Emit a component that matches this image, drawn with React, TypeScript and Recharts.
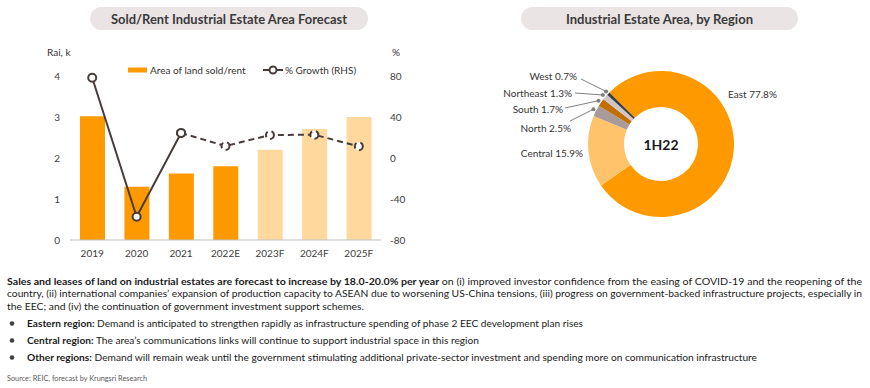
import React from "react";
import {
  ComposedChart,
  Bar,
  Line,
  XAxis,
  YAxis,
  Cell,
  PieChart,
  Pie,
} from "recharts";

// --- data ---
const years = ["2019", "2020", "2021", "2022E", "2023F", "2024F", "2025F"];
const landArea = [3.02, 1.3, 1.62, 1.8, 2.2, 2.71, 3.0]; // Rai, k
const growthPct = [78.3, -57.3, 24.4, 11.7, 22.4, 22.7, 11.4]; // % (RHS)
const forecastFrom = 4; // bars turn light from 2023F
const dashedFrom = 2; // growth line dashed from 2021

const regions = ["East", "Central", "North", "South", "Northeast", "West"];
const regionShare = [77.8, 15.9, 2.5, 1.7, 1.3, 0.7];

const leftTicks = [0, 1, 2, 3, 4];
const rightTicks = [-80, -40, 0, 40, 80];

const ORANGE = "#ff9900";
const LIGHT = "#ffd89e";
const LINE = "#4a3b3b";
const regionColors = ["#ff9900", "#ffc36b", "#a99b99", "#c26e00", "#cfc7c7", "#3f3f3f"];

const barData = years.map((year, i) => ({
  year,
  area: landArea[i],
  solid: i <= dashedFrom ? growthPct[i] : null,
  dashed: i >= dashedFrom ? growthPct[i] : null,
}));

const pieData = regions.map((name, i) => ({ name, value: regionShare[i] }));

// label placement around the donut, relative to its centre
const labelLayout = [
  { dx: 67, dy: -50, anchor: "start" },
  { dx: -78, dy: 9, anchor: "end" },
  { dx: -90, dy: -16, anchor: "end", lx: -91, ly: -23 },
  { dx: -98, dy: -35, anchor: "end", lx: -96, ly: -36 },
  { dx: -89, dy: -51, anchor: "end", lx: -86, ly: -51 },
  { dx: -84, dy: -68, anchor: "end", lx: -80, ly: -65 },
];

const FONT = "Lato, 'Open Sans', sans-serif";
const RADIAN = Math.PI / 180;

function DonutLabel(props: any) {
  const { cx, cy, midAngle, outerRadius, index } = props;
  const l = labelLayout[index];
  const r = outerRadius + 3;
  const px = cx + r * Math.cos(-midAngle * RADIAN);
  const py = cy + r * Math.sin(-midAngle * RADIAN);
  return (
    <g>
      {l.lx !== undefined && (
        <>
          <line x1={cx + l.lx} y1={cy + l.ly} x2={px} y2={py} stroke="#808080" strokeWidth={1} />
          <circle cx={px} cy={py} r={2} fill="#808080" />
        </>
      )}
      <text
        x={cx + l.dx}
        y={cy + l.dy}
        textAnchor={l.anchor}
        dominantBaseline="central"
        fontSize={10}
        fill="#333"
        fontFamily={FONT}
      >
        {`${regions[index]} ${regionShare[index]}%`}
      </text>
    </g>
  );
}

function Title({ x, w, text, tw }: { x: number; w: number; text: string; tw: number }) {
  return (
    <g>
      <rect x={x} y={7} width={w} height={23} rx={11.5} fill="#ebe4e4" />
      <text
        x={x + w / 2}
        y={23.5}
        textAnchor="middle"
        fontSize={13.5}
        fontWeight={700}
        fill="#3a3a3a"
        fontFamily={FONT}
        textLength={tw}
        lengthAdjust="spacingAndGlyphs"
      >
        {text}
      </text>
    </g>
  );
}

function Notes() {
  const base = { fontSize: 10, fill: "#1a1a1a", fontFamily: FONT, lengthAdjust: "spacingAndGlyphs" as const };
  const bullets = [
    { b: "Eastern region:", t: " Demand is anticipated to strengthen rapidly as infrastructure spending of phase 2 EEC development plan rises", w: 556, y: 327 },
    { b: "Central region:", t: " The area\u2019s communications links will continue to support industrial space in this region", w: 452, y: 344 },
    { b: "Other regions:", t: " Demand will remain weak until the government stimulating additional private-sector investment and spending more on communication infrastructure", w: 730, y: 361 },
  ];
  return (
    <g>
      <text x={7} y={284.5} textLength={855} {...base}>
        <tspan fontWeight={700}>
          Sales and leases of land on industrial estates are forecast to increase by 18.0-20.0% per year
        </tspan>
        <tspan> on (i) improved investor confidence from the easing of COVID-19 and the reopening of the</tspan>
      </text>
      <text x={7} y={297} textLength={855} {...base}>
        country, (ii) international companies{"\u2019"} expansion of production capacity to ASEAN due to worsening US-China tensions, (iii) progress on government-backed infrastructure projects, especially in
      </text>
      <text x={7} y={309.5} textLength={357} {...base}>
        the EEC; and (iv) the continuation of government investment support schemes.
      </text>
      {bullets.map((b) => (
        <g key={b.b}>
          <circle cx={12} cy={b.y - 3.5} r={2.3} fill="#404040" />
          <text x={27} y={b.y} textLength={b.w} {...base}>
            <tspan fontWeight={700}>{b.b}</tspan>
            <tspan>{b.t}</tspan>
          </text>
        </g>
      ))}
      <text x={7} y={381} fontSize={8} fill="#595959" fontFamily={FONT} textLength={140} lengthAdjust="spacingAndGlyphs">
        Source: REIC, forecast by Krungsri Research
      </text>
    </g>
  );
}

export default function App() {
  return (
    <div
      style={{
        position: "absolute",
        left: 0,
        top: 0,
        width: 870,
        height: 388,
        background: "#fff",
        fontFamily: FONT,
        overflow: "hidden",
      }}
    >
      <svg width={870} height={388} style={{ position: "absolute", left: 0, top: 0 }}>
        <Title x={90} w={278} text="Sold/Rent Industrial Estate Area Forecast" tw={236} />
        <Title x={521} w={277} text="Industrial Estate Area, by Region" tw={187} />

        <text x={47} y={55.5} fontSize={10} fill="#333" fontFamily={FONT}>Rai, k</text>
        <text x={392} y={55.5} fontSize={10} fill="#333" fontFamily={FONT}>%</text>

        {/* legend */}
        <rect x={128} y={67.5} width={19} height={5} fill={ORANGE} />
        <text x={150} y={73.5} fontSize={10} fill="#333" fontFamily={FONT}>Area of land sold/rent</text>
        <line x1={263} y1={70} x2={283} y2={70} stroke={LINE} strokeWidth={2} />
        <circle cx={273} cy={70} r={3.5} fill="#fff" stroke={LINE} strokeWidth={2} />
        <text x={285} y={73.5} fontSize={10} fill="#333" fontFamily={FONT}>% Growth (RHS)</text>

        <Notes />
      </svg>

      <div style={{ position: "absolute", left: 0, top: 0 }}>
        <ComposedChart
          width={430}
          height={270}
          data={barData}
          margin={{ top: 76, right: 0, bottom: 0, left: 0 }}
        >
          <XAxis
            dataKey="year"
            height={30}
            interval={0}
            tickLine={false}
            tickSize={0}
            tickMargin={10}
            axisLine={{ stroke: "#bfbfbf" }}
            tick={{ fontSize: 10, fill: "#404040", fontFamily: FONT }}
          />
          <YAxis
            yAxisId="left"
            domain={[0, 4]}
            ticks={leftTicks}
            width={70}
            axisLine={false}
            tickLine={false}
            tickSize={0}
            tickMargin={10}
            tick={{ fontSize: 10, fill: "#404040", fontFamily: FONT }}
          />
          <YAxis
            yAxisId="right"
            orientation="right"
            domain={[-80, 80]}
            ticks={rightTicks}
            width={49}
            axisLine={false}
            tickLine={false}
            tickSize={0}
            tickMargin={9}
            tick={{ fontSize: 10, fill: "#404040", fontFamily: FONT }}
          />
          <Bar yAxisId="left" dataKey="area" barSize={25} isAnimationActive={false}>
            {barData.map((d, i) => (
              <Cell key={d.year} fill={i >= forecastFrom ? LIGHT : ORANGE} />
            ))}
          </Bar>
          <Line
            yAxisId="right"
            dataKey="dashed"
            stroke={LINE}
            strokeWidth={2}
            strokeDasharray="6 4"
            dot={{ r: 4, fill: "#fff", stroke: LINE, strokeWidth: 2 }}
            isAnimationActive={false}
          />
          <Line
            yAxisId="right"
            dataKey="solid"
            stroke={LINE}
            strokeWidth={2}
            dot={{ r: 4, fill: "#fff", stroke: LINE, strokeWidth: 2 }}
            isAnimationActive={false}
          />
        </ComposedChart>
      </div>

      <div style={{ position: "absolute", left: 430, top: 0 }}>
        <PieChart width={440} height={260} margin={{ top: 0, right: 0, bottom: 0, left: 0 }}>
          <Pie
            data={pieData}
            dataKey="value"
            cx={231}
            cy={144}
            innerRadius={37}
            outerRadius={73}
            startAngle={135}
            endAngle={-225}
            stroke="none"
            labelLine={false}
            label={DonutLabel}
            isAnimationActive={false}
          >
            {pieData.map((d, i) => (
              <Cell key={d.name} fill={regionColors[i]} />
            ))}
          </Pie>
          <text x={231} y={144} textAnchor="middle" dominantBaseline="central" fontSize={14} fontWeight={700} fill="#1a1a1a" fontFamily={FONT}>
            1H22
          </text>
        </PieChart>
      </div>
    </div>
  );
}
